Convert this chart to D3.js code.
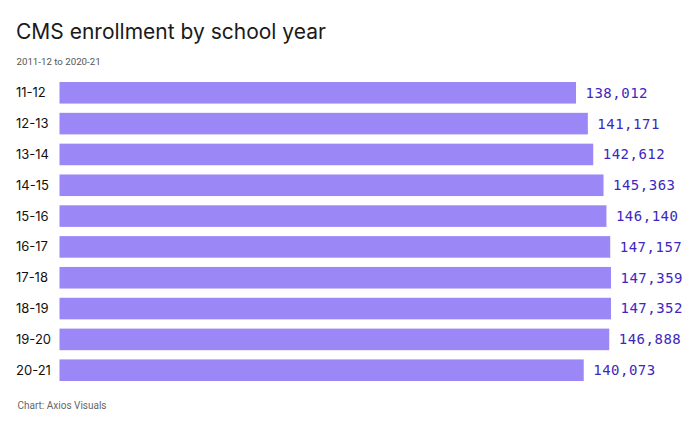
<!DOCTYPE html>
<html>
<head>
<meta charset="utf-8">
<script src="https://cdn.jsdelivr.net/npm/d3@7"></script>
<style>
  body { margin: 0; background: #fff; }
  svg { display: block; }
</style>
</head>
<body>
<svg id="chart"></svg>
<script>
const years = ["11-12", "12-13", "13-14", "14-15", "15-16", "16-17", "17-18", "18-19", "19-20", "20-21"];
const enrollment = [138012, 141171, 142612, 145363, 146140, 147157, 147359, 147352, 146888, 140073];

const width = 700;
const height = 436;

const svg = d3.select("#chart")
    .attr("width", width)
    .attr("height", height);

const x = d3.scaleLinear()
    .domain([0, d3.max(enrollment)])
    .range([59.5, 611]);

const y = d3.scaleBand()
    .domain(years)
    .range([82, 381])
    .paddingInner(0.3)
    .paddingOuter(0);

// title + subtitle
svg.append("text")
    .attr("x", 16)
    .attr("y", 39)
    .style("font", "21px Inter, 'Noto Sans', sans-serif")
    .style("fill", "#1a1a1a")
    .text("CMS enrollment by school year");

svg.append("text")
    .attr("x", 16.5)
    .attr("y", 65)
    .style("font", "9.7px Roboto, sans-serif")
    .style("fill", "#555")
    .text("2011-12 to 2020-21");

const data = years.map((d, i) => ({year: d, value: enrollment[i]}));

svg.append("g")
  .selectAll("rect")
  .data(data)
  .join("rect")
    .attr("x", x(0))
    .attr("y", d => y(d.year))
    .attr("width", d => x(d.value) - x(0))
    .attr("height", y.bandwidth())
    .attr("fill", "#9b87f5");

// year labels
svg.append("g")
    .style("font", "13px Inter, 'Noto Sans', sans-serif")
    .attr("fill", "#111")
  .selectAll("text")
  .data(data)
  .join("text")
    .attr("x", 16)
    .attr("y", d => y(d.year) + y.bandwidth() / 2)
    .attr("dy", "0.35em")
    .text(d => d.year);

// value labels
svg.append("g")
    .style("font", "14px 'DejaVu Sans Mono', monospace")
    .style("letter-spacing", "0.5px")
    .attr("fill", "#3d27c0")
  .selectAll("text")
  .data(data)
  .join("text")
    .attr("x", d => x(d.value) + 9.5)
    .attr("y", d => y(d.year) + y.bandwidth() / 2)
    .attr("dy", "0.35em")
    .text(d => d3.format(",")(d.value));

svg.append("text")
    .attr("x", 17.5)
    .attr("y", 409)
    .style("font", "10px Roboto, sans-serif")
    .style("fill", "#666")
    .text("Chart: Axios Visuals");
</script>
</body>
</html>
